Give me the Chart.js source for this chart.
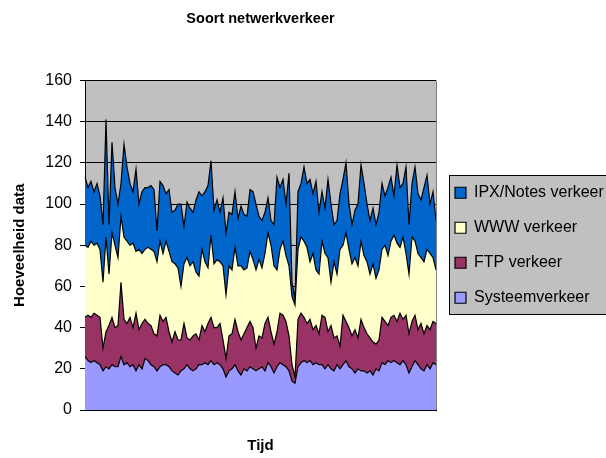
<!DOCTYPE html>
<html>
<head>
<meta charset="utf-8">
<script src="https://cdn.jsdelivr.net/npm/chart.js@4.4.1/dist/chart.umd.min.js"></script>
<style>
  html, body { margin: 0; padding: 0; background: #ffffff; }
  canvas { display: block; }
</style>
</head>
<body>
<canvas id="verkeer" width="606" height="458"></canvas>
<script>
// Measured traffic per time slot, per traffic type (stacked bottom to top)
const systeemverkeer = [
  26,24,23,24,23,22,19,21,20,22, 21,21,26,22,23,21,22,19,22,20,
  25,24,22,21,19,21,22,22,21,19, 18,17,19,20,22,20,19,20,22,22,
  23,22,24,22,23,22,20,16,19,20, 22,19,17,20,19,21,20,19,20,21,
  19,23,21,18,21,23,22,21,19,14, 13,21,23,24,23,24,22,23,22,22,
  20,22,20,19,22,20,22,24,21,20, 18,20,19,19,18,19,17,20,19,23,
  22,24,23,24,23,22,24,22,18,21, 24,22,20,19,22,20,23,22
];
const ftpVerkeer = [
  19,22,22,23,23,23,11,17,21,23, 19,20,36,22,19,24,18,28,17,22,
  19,18,19,16,17,25,21,23,17,14, 20,17,15,22,13,14,17,17,12,19,
  15,20,21,18,17,20,14,9,17,17, 22,19,17,17,21,22,20,11,16,14,
  23,22,17,14,17,24,24,22,17,8, 3,23,24,21,19,20,17,18,15,24,
  25,16,21,16,14,11,24,19,19,16, 21,15,25,21,19,16,16,12,15,22,
  21,17,22,22,20,25,20,24,19,22, 22,17,22,18,19,19,20,20
];
const wwwVerkeer = [
  35,33,37,33,35,33,32,46,25,41, 40,33,32,40,40,35,41,30,39,34,
  34,37,37,40,36,36,33,37,39,39, 33,35,26,29,39,36,36,30,31,37,
  34,27,40,31,33,30,36,31,34,31, 35,32,36,31,29,34,33,38,37,34,
  34,41,42,38,30,31,36,32,34,33, 35,34,37,37,37,28,37,27,29,36,
  31,36,21,37,30,47,34,43,38,35, 35,35,38,35,35,31,38,32,34,33,
  37,34,37,39,38,32,40,30,29,41, 36,37,32,35,37,37,31,26
];
const ipxNotesVerkeer = [
  33,29,29,26,29,26,28,57,24,44, 28,26,16,45,36,30,25,40,22,30,
  30,29,31,30,15,29,33,23,30,24, 26,31,40,18,27,28,24,35,41,26,
  34,40,36,26,29,24,33,30,26,27, 27,23,29,27,25,30,33,32,21,23,
  20,17,12,20,45,30,30,25,45,7, 3,28,26,36,31,40,29,43,30,24,
  22,38,38,18,26,27,32,34,22,19, 23,30,37,35,28,26,27,26,28,32,
  24,33,31,19,38,29,26,42,24,26, 36,29,28,36,36,24,32,24
];
// Time slots (unlabelled on the axis)
const tijdstippen = systeemverkeer.map((_, i) => String(i + 1));
// Value axis ticks
const hoeveelheidTicks = [0, 20, 40, 60, 80, 100, 120, 140, 160];

const FONT = '"Liberation Sans", Arial, Helvetica, sans-serif';

// Grey plot background, plot frame and the legend panel
const plotAndLegendBackground = {
  id: 'plotAndLegendBackground',
  beforeDraw(chart) {
    const { ctx, chartArea: a, legend } = chart;
    ctx.save();
    ctx.fillStyle = '#c0c0c0';
    ctx.fillRect(a.left, a.top, a.right - a.left, a.bottom - a.top);
    if (legend && legend.columnSizes && legend.columnSizes.length) {
      const pad = legend.options.labels.padding;
      const colH = legend.columnSizes[0].height;
      const y0 = (legend.top + pad + legend.bottom - colH) / 2;
      const x = Math.round(legend.left + 13) + 0.5;
      const top = Math.round(y0 - 10) + 0.5;
      const bottom = Math.round(y0 + colH - pad + 8) + 0.5;
      ctx.fillStyle = '#c0c0c0';
      ctx.fillRect(x, top, chart.width + 20 - x, bottom - top);
      ctx.strokeStyle = '#000000';
      ctx.lineWidth = 1;
      ctx.strokeRect(x, top, chart.width + 20 - x, bottom - top);
    }
    ctx.restore();
  },
  afterDatasetsDraw(chart) {
    const { ctx, chartArea: a } = chart;
    ctx.save();
    ctx.strokeStyle = '#808080';
    ctx.lineWidth = 1;
    ctx.beginPath();
    ctx.moveTo(Math.round(a.right) + 0.5, a.top);
    ctx.lineTo(Math.round(a.right) + 0.5, a.bottom);
    ctx.stroke();
    ctx.restore();
  }
};

const series = [
  { label: 'Systeemverkeer',    data: systeemverkeer,  color: '#9999ff' },
  { label: 'FTP verkeer',       data: ftpVerkeer,      color: '#993366' },
  { label: 'WWW verkeer',       data: wwwVerkeer,      color: '#ffffcc' },
  { label: 'IPX/Notes verkeer', data: ipxNotesVerkeer, color: '#0066cc' }
];

new Chart(document.getElementById('verkeer'), {
  type: 'line',
  data: {
    labels: tijdstippen,
    datasets: series.map((s, i) => ({
      label: s.label,
      data: s.data,
      backgroundColor: s.color,
      borderColor: '#000000',
      borderWidth: 1.2,
      pointRadius: 0,
      pointHoverRadius: 0,
      tension: 0,
      fill: i === 0 ? 'origin' : '-1'
    }))
  },
  plugins: [plotAndLegendBackground],
  options: {
    responsive: false,
    animation: false,
    devicePixelRatio: 1,
    layout: { padding: 0 },
    plugins: {
      tooltip: { enabled: false },
      title: {
        display: true,
        text: 'Soort netwerkverkeer',
        fullSize: false,
        color: '#000000',
        font: { family: FONT, size: 14.5, weight: 'bold', lineHeight: 1.2 },
        padding: { top: 10, bottom: 53.1 }
      },
      legend: {
        display: true,
        position: 'right',
        fullSize: false,
        reverse: true,
        maxWidth: 170,
        labels: {
          color: '#000000',
          font: { family: FONT, size: 16 },
          boxWidth: 11,
          boxHeight: 11,
          padding: 19
        }
      }
    },
    scales: {
      x: {
        type: 'category',
        offset: false,
        grid: { display: false },
        border: { display: true, color: '#000000', width: 1 },
        ticks: { display: false },
        title: {
          display: true,
          text: 'Tijd',
          color: '#000000',
          font: { family: FONT, size: 15, weight: 'bold', lineHeight: 1.2 },
          padding: { top: 0, bottom: 3 }
        },
        afterFit(scale) { scale.height = 48; }
      },
      y: {
        stacked: true,
        min: 0,
        max: 160,
        afterBuildTicks(scale) { scale.ticks = hoeveelheidTicks.map(v => ({ value: v })); },
        grid: {
          color: '#000000',
          lineWidth: 1,
          drawTicks: true,
          tickLength: 5,
          tickColor: '#000000'
        },
        border: { display: true, color: '#000000', width: 1 },
        ticks: {
          color: '#000000',
          padding: 8,
          font: { family: FONT, size: 16 }
        },
        title: {
          display: true,
          text: 'Hoeveelheid data',
          color: '#000000',
          font: { family: FONT, size: 15, weight: 'bold', lineHeight: 1.2 },
          padding: { top: 11, bottom: 0 }
        },
        afterFit(scale) { scale.width = 85; }
      }
    }
  }
});
</script>
</body>
</html>
